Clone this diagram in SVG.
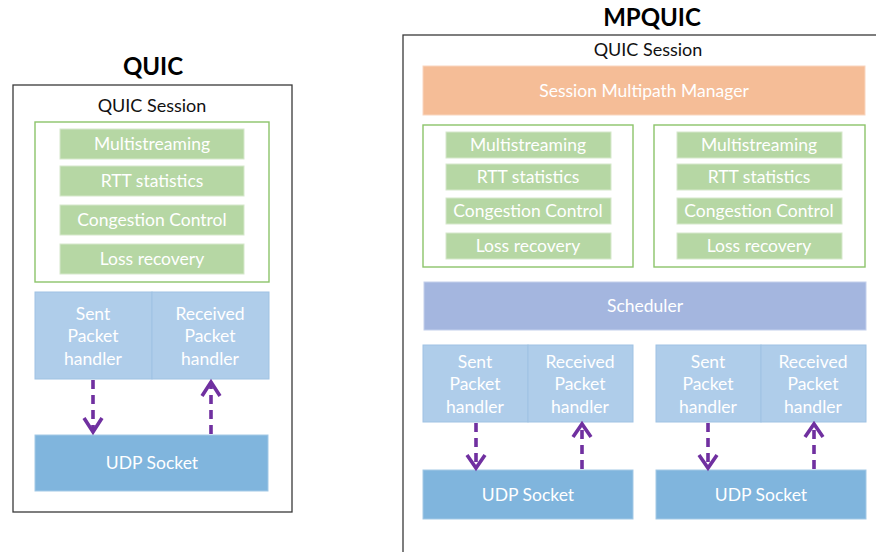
<svg xmlns="http://www.w3.org/2000/svg" width="876" height="552" viewBox="0 0 876 552">
  <style>
    .frame { fill: #ffffff; stroke: #3a3a3a; stroke-width: 1.3; }
    .group { fill: #ffffff; stroke: #8cc46a; stroke-width: 1.4; }
    .bar { fill: #b6d7a4; stroke: #d6e8cb; stroke-width: 1; }
    .mgr { fill: #f5bd97; stroke: #f9d6bf; stroke-width: 1; }
    .sched { fill: #a4b6df; stroke: #c3d0ec; stroke-width: 1; }
    .hdl { fill: #afcdea; stroke: #9fc2e3; stroke-width: 1; }
    .udp { fill: #80b5dd; stroke: #a3c9e6; stroke-width: 1; }
    .title { font-family: "Lato", "Open Sans", sans-serif; font-weight: bold; font-size: 24px; fill: #000; text-anchor: middle; }
    .sess { font-family: "Lato", "Open Sans", sans-serif; font-size: 18px; fill: #111; text-anchor: middle; }
    .lbl { font-family: "Lato", "Open Sans", sans-serif; font-size: 17.5px; fill: #ffffff; text-anchor: middle; }
    .conn { fill: none; stroke: #7030a0; stroke-width: 3.6; stroke-dasharray: 9 6; }
    .head { fill: none; stroke: #7030a0; stroke-width: 3.6; stroke-linejoin: miter; }
  </style>

  <!-- QUIC (single path) -->
  <text class="title" x="153" y="75">QUIC</text>
  <g id="quic-session">
    <rect class="frame" x="13" y="85" width="279" height="427"/>
    <text class="sess" x="152" y="112">QUIC Session</text>
  </g>
  <g id="quic-path">
    <rect class="group" x="35" y="122" width="234" height="160"/>
    <rect class="bar" x="60" y="129" width="184" height="30"/>
    <text class="lbl" x="152" y="150">Multistreaming</text>
    <rect class="bar" x="60" y="166" width="184" height="30"/>
    <text class="lbl" x="152" y="187">RTT statistics</text>
    <rect class="bar" x="60" y="205" width="184" height="30"/>
    <text class="lbl" x="152" y="226">Congestion Control</text>
    <rect class="bar" x="60" y="244" width="184" height="30"/>
    <text class="lbl" x="152" y="265">Loss recovery</text>
  </g>
  <g id="quic-sent">
    <rect class="hdl" x="35" y="292" width="117" height="87"/>
    <text class="lbl" x="93" y="320">Sent</text>
    <text class="lbl" x="93" y="342">Packet</text>
    <text class="lbl" x="93" y="365">handler</text>
  </g>
  <g id="quic-recv">
    <rect class="hdl" x="152" y="292" width="117" height="87"/>
    <text class="lbl" x="210" y="320">Received</text>
    <text class="lbl" x="210" y="342">Packet</text>
    <text class="lbl" x="210" y="365">handler</text>
  </g>
  <g id="quic-udp">
    <rect class="udp" x="35" y="435" width="233" height="56"/>
    <text class="lbl" x="152" y="469">UDP Socket</text>
  </g>

  <!-- MPQUIC -->
  <text class="title" x="652" y="26">MPQUIC</text>
  <g id="mpquic-session">
    <rect class="frame" x="403" y="35" width="480" height="530"/>
    <text class="sess" x="648" y="56">QUIC Session</text>
  </g>
  <g id="mp-manager">
    <rect class="mgr" x="423" y="66" width="442" height="49"/>
    <text class="lbl" x="644" y="97">Session Multipath Manager</text>
  </g>
  <g id="mp-path1">
    <rect class="group" x="423" y="125" width="210" height="142"/>
    <rect class="bar" x="446" y="132" width="165" height="26"/>
    <text class="lbl" x="528" y="151">Multistreaming</text>
    <rect class="bar" x="446" y="164" width="165" height="26"/>
    <text class="lbl" x="528" y="183">RTT statistics</text>
    <rect class="bar" x="446" y="198" width="165" height="26"/>
    <text class="lbl" x="528" y="217">Congestion Control</text>
    <rect class="bar" x="446" y="233" width="165" height="26"/>
    <text class="lbl" x="528" y="252">Loss recovery</text>
  </g>
  <g id="mp-path2">
    <rect class="group" x="654" y="125" width="211" height="142"/>
    <rect class="bar" x="677" y="132" width="165" height="26"/>
    <text class="lbl" x="759" y="151">Multistreaming</text>
    <rect class="bar" x="677" y="164" width="165" height="26"/>
    <text class="lbl" x="759" y="183">RTT statistics</text>
    <rect class="bar" x="677" y="198" width="165" height="26"/>
    <text class="lbl" x="759" y="217">Congestion Control</text>
    <rect class="bar" x="677" y="233" width="165" height="26"/>
    <text class="lbl" x="759" y="252">Loss recovery</text>
  </g>
  <g id="mp-scheduler">
    <rect class="sched" x="424" y="282" width="442" height="48"/>
    <text class="lbl" x="645" y="312">Scheduler</text>
  </g>
  <g id="mp-sent1">
    <rect class="hdl" x="423" y="345" width="105" height="77"/>
    <text class="lbl" x="475" y="368">Sent</text>
    <text class="lbl" x="475" y="390">Packet</text>
    <text class="lbl" x="475" y="413">handler</text>
  </g>
  <g id="mp-recv1">
    <rect class="hdl" x="528" y="345" width="105" height="77"/>
    <text class="lbl" x="580" y="368">Received</text>
    <text class="lbl" x="580" y="390">Packet</text>
    <text class="lbl" x="580" y="413">handler</text>
  </g>
  <g id="mp-sent2">
    <rect class="hdl" x="656" y="345" width="105" height="77"/>
    <text class="lbl" x="708" y="368">Sent</text>
    <text class="lbl" x="708" y="390">Packet</text>
    <text class="lbl" x="708" y="413">handler</text>
  </g>
  <g id="mp-recv2">
    <rect class="hdl" x="761" y="345" width="105" height="77"/>
    <text class="lbl" x="813" y="368">Received</text>
    <text class="lbl" x="813" y="390">Packet</text>
    <text class="lbl" x="813" y="413">handler</text>
  </g>
  <g id="mp-udp1">
    <rect class="udp" x="423" y="470" width="210" height="49"/>
    <text class="lbl" x="528" y="501">UDP Socket</text>
  </g>
  <g id="mp-udp2">
    <rect class="udp" x="656" y="470" width="210" height="49"/>
    <text class="lbl" x="761" y="501">UDP Socket</text>
  </g>

  <!-- connectors: dashed shafts with open chevron heads -->
  <g id="connectors">
    <line class="conn" x1="93" y1="380" x2="93" y2="430"/>
    <path class="head" d="M84 418 L93 432 L102 418"/>
    <line class="conn" x1="211" y1="434" x2="211" y2="384"/>
    <path class="head" d="M202 396 L211 382 L220 396"/>

    <line class="conn" x1="476" y1="423" x2="476" y2="466"/>
    <path class="head" d="M467 455 L476 468 L485 455"/>
    <line class="conn" x1="582" y1="469" x2="582" y2="426"/>
    <path class="head" d="M573 437 L582 424 L591 437"/>

    <line class="conn" x1="708" y1="423" x2="708" y2="466"/>
    <path class="head" d="M699 455 L708 468 L717 455"/>
    <line class="conn" x1="814" y1="469" x2="814" y2="426"/>
    <path class="head" d="M805 437 L814 424 L823 437"/>
  </g>
</svg>
